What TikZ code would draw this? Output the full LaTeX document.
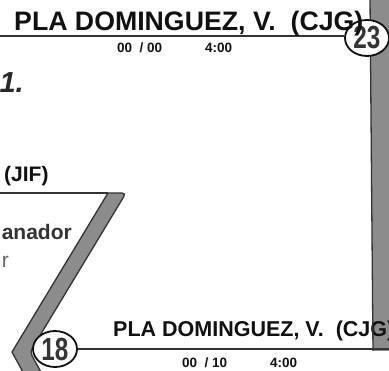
\documentclass[tikz,border=0pt]{standalone}
\usepackage{fontspec}
\usepackage{graphicx}
\usepackage{xcolor}
\usepackage{tikz}
\usetikzlibrary{positioning,calc,shapes.geometric}
\setmainfont{Liberation Sans}
\definecolor{ink}{HTML}{111111}
\definecolor{rulegray}{HTML}{333333}
\definecolor{barfill}{HTML}{8C8C8C}
\newcommand\pxfont[1]{\fontsize{#1}{#1}\selectfont}

\begin{document}
\begin{tikzpicture}[
    x=1pt, y=-1pt,
    seat/.style={ellipse, draw=ink, line width=1.8pt, fill=white, inner sep=0pt, minimum width=44pt, minimum height=36pt, font=\pxfont{32}\bfseries, text=ink!85},
    rule/.style={draw=rulegray, line width=2.2pt},
    chev/.style={draw=rulegray, line width=1.3pt, fill=barfill},
    player/.style={inner sep=0pt, anchor=base west, font=\pxfont{26.7}\bfseries, text=ink},
    score/.style={inner sep=0pt, anchor=base west, font=\pxfont{13.5}\bfseries, text=ink},
    side/.style={inner sep=0pt, anchor=base east, font=\pxfont{21}\bfseries}
]
    \useasboundingbox (0,0) rectangle (389,371);

    % Connector lines
    \coordinate (topstart) at (0,36);
    \coordinate (jifstart) at (0,193);
    \coordinate (chevtop) at (108,193);
    \coordinate (botend) at (392,349);
    \node[seat, draw=none, fill=none] (s23pos) at (367,38) {};
    \draw[rule] (topstart) -- (topstart -| s23pos.west);
    \draw[rule] (jifstart) -- (chevtop);

    % Left bracket bar
    \filldraw[chev] (chevtop) [rounded corners=4pt] -- (126,193) -- (30,352) [sharp corners] -- (42,374) -- (24,374) -- (12,352) -- cycle;

    % Right bracket bar
    \fill[barfill] (370,-3) -- (373,351) -- (392,351) -- (392,-3) -- cycle;

    % Lower match
    \node[seat] (s18) at (55,349) {\scalebox{0.76}[1]{18}};
    \draw[rule] (s18.east) -- (botend);
    \node[player, font=\pxfont{21.5}\bfseries] (botname) at (113,337) {PLA DOMINGUEZ, V.~ (CJG)};
    \node[score] (botscore) at (182,368) {00~ / 10};
    \node[score] (bottime) at (270,368) {4:00};
    \draw[chev, fill=none] (370,-3) -- (373,351);

    % Upper match
    \node[seat] (s23) at (s23pos) {\scalebox{0.76}[1]{23}};
    \node[player] (topname) at (14,31) {PLA DOMINGUEZ, V.~ (CJG)};
    \node[score] (topscore) at (117,53) {00~ / 00};
    \node[score] (toptime) at (205,53) {4:00};

    % Cut-off texts on the left
    \node[side, font=\pxfont{29}\bfseries\itshape, text=ink!90] (round) at (24,93) {1.};
    \node[side, anchor=base west, text=ink] (jif) at (4,182) {(JIF)};
    \node[side, text=rulegray] (winner) at (72,240) {anador};
    \node[side, font=\pxfont{21}, text=black!60] (loser) at (9,268) {r};
\end{tikzpicture}
\end{document}
